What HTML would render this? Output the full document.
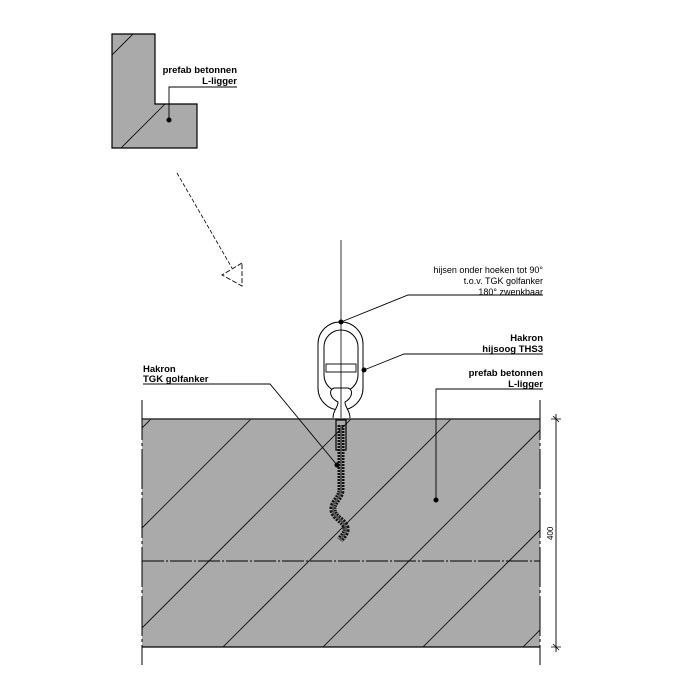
<!DOCTYPE html>
<html><head><meta charset="utf-8"><style>
html,body{margin:0;padding:0;width:700px;height:700px;overflow:hidden;background:#fff}
svg{display:block}
text{font-family:"Liberation Sans",sans-serif;fill:#000}
.b{font-weight:bold;font-size:9.5px}
.r{font-size:9px}
</style></head><body>
<svg width="700" height="700" viewBox="0 0 700 700">
<defs><clipPath id="bc"><rect x="142" y="419" width="398" height="228"/></clipPath>
<clipPath id="lc"><path d="M112 34H155V104H197V148H112Z"/></clipPath></defs>
<path d="M112 34H155V104H197V148H112Z" fill="#aaa" stroke="#000" stroke-width="1.2"/>
<g clip-path="url(#lc)" stroke="#000" stroke-width="0.8"><line x1="112" y1="55" x2="133" y2="34"/><line x1="121" y1="148" x2="165" y2="104"/></g>
<text class="b" x="237" y="73" text-anchor="end">prefab betonnen</text>
<text class="b" x="237" y="84" text-anchor="end">L-ligger</text>
<polyline points="237,87 169,87 169,120" fill="none" stroke="#000" stroke-width="0.9"/>
<circle cx="169" cy="120" r="2.5" fill="#000"/>
<line x1="177" y1="173" x2="232" y2="268" stroke="#000" stroke-width="0.8" stroke-dasharray="4,2"/>
<path d="M242 263L222 275L242 286Z" fill="none" stroke="#000" stroke-width="0.9" stroke-dasharray="5,2"/>
<rect x="142" y="419" width="398" height="228" fill="#aaa"/>
<g clip-path="url(#bc)" stroke="#000" stroke-width="0.8">
<line x1="0" y1="570" x2="570" y2="0"/><line x1="0" y1="670" x2="670" y2="0"/><line x1="0" y1="770" x2="770" y2="0"/><line x1="0" y1="870" x2="870" y2="0"/><line x1="0" y1="970" x2="970" y2="0"/><line x1="0" y1="1070" x2="1070" y2="0"/><line x1="0" y1="1170" x2="1170" y2="0"/>
</g>
<line x1="142" y1="419" x2="540" y2="419" stroke="#333" stroke-width="1.5"/>
<line x1="142" y1="647" x2="540" y2="647" stroke="#000" stroke-width="1.3"/>
<line x1="142" y1="561" x2="540" y2="561" stroke="#000" stroke-width="0.9" stroke-dasharray="22,2,2,2"/>
<line x1="142" y1="400" x2="142" y2="665" stroke="#000" stroke-width="1" stroke-dasharray="40,3,3,3"/>
<line x1="540" y1="400" x2="540" y2="665" stroke="#000" stroke-width="1" stroke-dasharray="40,3,3,3"/>
<line x1="556" y1="414" x2="556" y2="652" stroke="#000" stroke-width="0.9"/>
<path d="M551 419H561M553 416L559 422M551 647H561M553 644L559 650" stroke="#000" stroke-width="0.8"/>
<text x="0" y="0" font-size="8" transform="translate(553,540) rotate(-90)">400</text>
<line x1="341" y1="240" x2="341" y2="418" stroke="#000" stroke-width="0.8"/>
<rect x="318" y="322" width="45" height="88" rx="22" fill="#fff" stroke="#000" stroke-width="1"/>
<rect x="324" y="330" width="34" height="62" rx="17" fill="none" stroke="#000" stroke-width="1"/>
<rect x="326" y="364" width="30" height="8" fill="none" stroke="#000" stroke-width="0.9"/>
<path d="M333 418C333 410 338 408 338 402C330 398 328 390 334 388H348C354 390 352 398 345 402C345 408 350 410 350 418" fill="#fff" stroke="#000" stroke-width="1"/>
<line x1="341" y1="322" x2="341" y2="418" stroke="#000" stroke-width="0.8"/>
<rect x="336" y="420" width="10" height="30" fill="none" stroke="#000" stroke-width="1.2"/>
<path d="M341 425V490C341 498 332 502 333 510C334 518 344 520 346 528C347 533 342 537 340 540" fill="none" stroke="#111" stroke-width="7" stroke-dasharray="2,1"/>
<path d="M341 425V490C341 498 332 502 333 510C334 518 344 520 346 528C347 533 342 537 340 540" fill="none" stroke="#555" stroke-width="2"/>
<text class="r" x="543" y="273" text-anchor="end">hijsen onder hoeken tot 90°</text>
<text class="r" x="543" y="284" text-anchor="end">t.o.v. TGK golfanker</text>
<text class="r" x="543" y="295" text-anchor="end">180° zwenkbaar</text>
<polyline points="543,295 408,295 341,322" fill="none" stroke="#000" stroke-width="0.9"/>
<circle cx="341" cy="322" r="2.5" fill="#000"/>
<text class="b" x="543" y="341" text-anchor="end">Hakron</text>
<text class="b" x="543" y="352" text-anchor="end">hijsoog THS3</text>
<polyline points="543,354 404,354 364,370" fill="none" stroke="#000" stroke-width="0.9"/>
<circle cx="364" cy="370" r="2.5" fill="#000"/>
<text class="b" x="543" y="376" text-anchor="end">prefab betonnen</text>
<text class="b" x="543" y="387" text-anchor="end">L-ligger</text>
<polyline points="543,389 436,389 436,500" fill="none" stroke="#000" stroke-width="0.9"/>
<circle cx="436" cy="500" r="2.5" fill="#000"/>
<text class="b" x="143" y="372">Hakron</text>
<text class="b" x="143" y="382">TGK golfanker</text>
<polyline points="143,384 270,384 337,465" fill="none" stroke="#000" stroke-width="0.9"/>
<circle cx="337" cy="465" r="2.5" fill="#000"/>
</svg>
</body></html>
